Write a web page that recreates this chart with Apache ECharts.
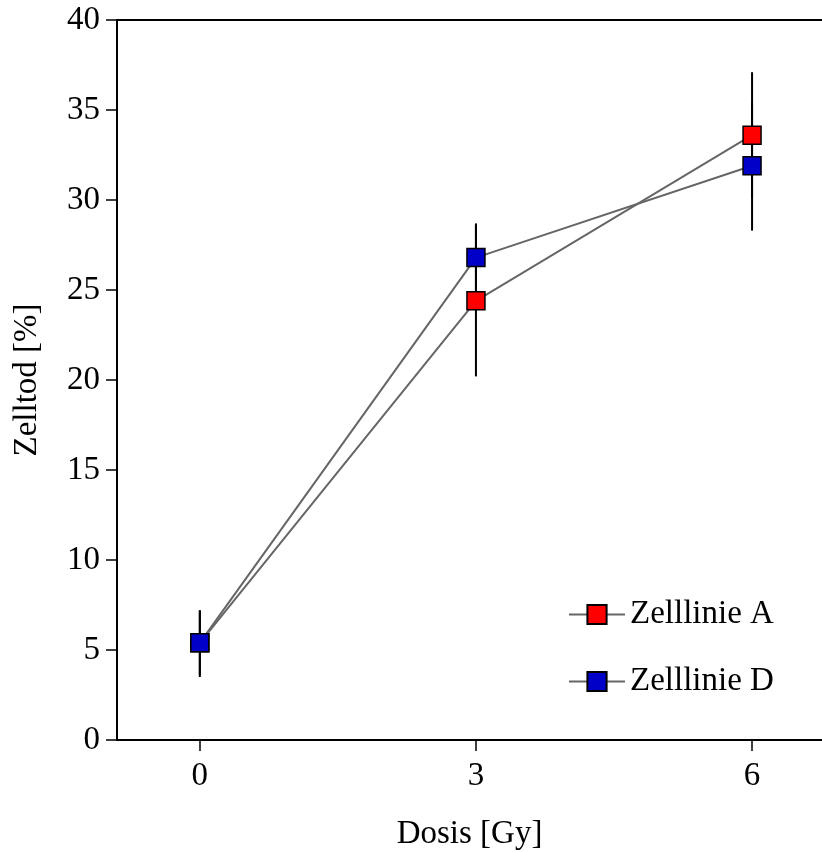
<!DOCTYPE html>
<html>
<head>
<meta charset="utf-8">
<script src="https://cdn.jsdelivr.net/npm/echarts@6/dist/echarts.min.js"></script>
<style>
  html, body { margin: 0; padding: 0; background: #fff; }
  #chart { width: 822px; height: 852px; }
</style>
</head>
<body>
<div id="chart"></div>
<script>
// dose levels [Gy]
const doses = [0, 3, 6];

// cell death [%], mean and error bar limits
const lineA = [5.4, 24.4, 33.6];
const lineA_low = [3.6, 20.2, 30.1];
const lineA_high = [7.2, 28.6, 37.1];

const lineD = [5.4, 26.8, 31.9];
const lineD_low = [3.5, 24.9, 28.3];
const lineD_high = [7.2, 28.7, 35.4];

const yTicks = [0, 5, 10, 15, 20, 25, 30, 35, 40];

const FONT = '"Liberation Serif", "DejaVu Serif", serif';
const FS = 33;

const chart = echarts.init(document.getElementById('chart'), null, { renderer: 'canvas' });

function pairs(ys) {
  return doses.map((d, i) => [d, ys[i]]);
}

function errorSeries(low, high) {
  return {
    type: 'custom',
    z: 1,
    silent: true,
    data: doses.map((d, i) => [d, low[i], high[i]]),
    renderItem: (params, api) => {
      const top = api.coord([api.value(0), api.value(2)]);
      const bot = api.coord([api.value(0), api.value(1)]);
      return {
        type: 'line',
        shape: { x1: top[0], y1: top[1], x2: bot[0], y2: bot[1] },
        style: { stroke: '#000', lineWidth: 2 },
      };
    },
  };
}

function markerSeries(name, ys, color) {
  return {
    name,
    type: 'line',
    z: 3,
    data: pairs(ys),
    symbol: 'rect',
    symbolSize: 18,
    itemStyle: { color, borderColor: '#000', borderWidth: 1.5 },
    lineStyle: { color: '#666', width: 2 },
    emphasis: { disabled: true },
  };
}

chart.setOption({
  backgroundColor: '#fff',
  animation: false,
  textStyle: { fontFamily: FONT, color: '#000' },
  grid: { left: 117, top: 20, right: 0, bottom: 112, outerBoundsMode: 'none', containLabel: false },
  legend: {
    orient: 'vertical',
    left: 563,
    top: 593,
    itemWidth: 56,
    itemHeight: 24,
    itemGap: 34,
    data: ['Zelllinie A', 'Zelllinie D'],
    textStyle: { fontFamily: FONT, fontSize: FS, color: '#000' },
  },
  xAxis: [
    {
      type: 'value',
      min: -0.9,
      max: 6.76,
      name: 'Dosis [Gy]',
      nameLocation: 'middle',
      nameGap: 78,
      nameTextStyle: { fontFamily: FONT, fontSize: FS, color: '#000' },
      axisLine: { onZero: false, lineStyle: { color: '#000', width: 2 } },
      axisTick: { length: 11, customValues: doses, lineStyle: { color: '#000', width: 1.5 } },
      axisLabel: { fontFamily: FONT, fontSize: FS, color: '#000', margin: 20, customValues: doses },
      splitLine: { show: false },
    },
    {
      type: 'value',
      position: 'top',
      min: -0.9,
      max: 6.76,
      axisLine: { show: true, onZero: false, lineStyle: { color: '#000', width: 2 } },
      axisTick: { show: false },
      axisLabel: { show: false },
      splitLine: { show: false },
    },
  ],
  yAxis: {
    type: 'value',
    min: 0,
    max: 40,
    interval: 5,
    name: 'Zelltod [%]',
    nameLocation: 'middle',
    nameGap: 73,
    nameTextStyle: { fontFamily: FONT, fontSize: FS, color: '#000' },
    axisLine: { show: true, onZero: false, lineStyle: { color: '#000', width: 2 } },
    axisTick: { length: 11, lineStyle: { color: '#000', width: 1.5 } },
    axisLabel: {
      fontFamily: FONT, fontSize: FS, color: '#000', margin: 17,
      formatter: (v) => (yTicks.includes(v) ? String(v) : ''),
    },
    splitLine: { show: false },
  },
  series: [
    errorSeries(lineA_low, lineA_high),
    errorSeries(lineD_low, lineD_high),
    markerSeries('Zelllinie A', lineA, '#ff0000'),
    markerSeries('Zelllinie D', lineD, '#0000c8'),
  ],
});
</script>
</body>
</html>
